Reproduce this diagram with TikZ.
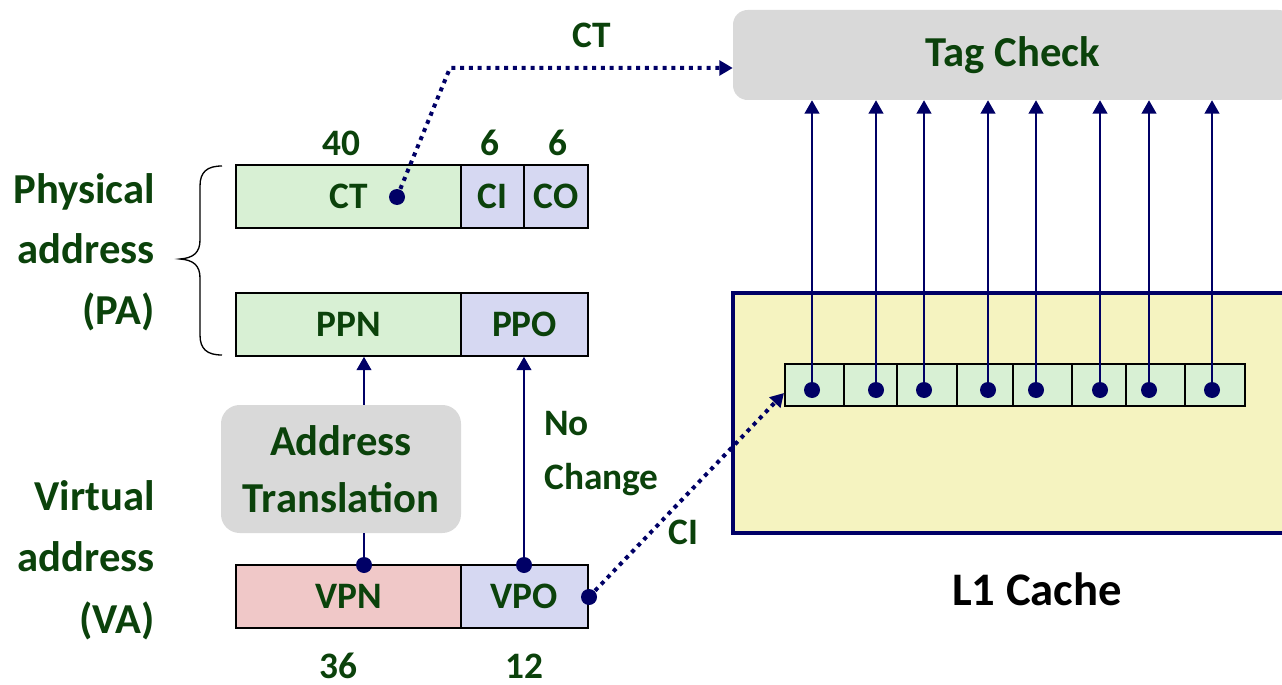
\documentclass[tikz,border=0pt]{standalone}
\usepackage{fontspec}
\setmainfont{Carlito}
\usetikzlibrary{arrows.meta}
\definecolor{tgreen}{RGB}{11,66,11}
\definecolor{navyc}{RGB}{0,0,102}
\definecolor{lgreen}{RGB}{216,240,212}
\definecolor{lblue}{RGB}{214,216,242}
\definecolor{lpink}{RGB}{240,200,200}
\definecolor{lgray}{RGB}{217,217,217}
\definecolor{lyellow}{RGB}{245,243,192}
\tikzset{
  sz/.style 2 args={minimum width=#1*0.75pt, minimum height=#2*0.75pt},
  fld/.style={draw=black, line width=1.2pt, inner sep=0pt, text=tgreen, font=\bfseries\fontsize{28}{30}\selectfont},
  gfld/.style={fld, fill=lgreen},
  bfld/.style={fld, fill=lblue},
  pfld/.style={fld, fill=lpink},
  cell/.style={draw=black, line width=1.5pt, inner sep=0pt, fill=lgreen},
  gbox/.style={fill=lgray, rounded corners=11pt, inner sep=0pt, text=tgreen, font=\bfseries\fontsize{32}{43}\selectfont, align=center},
  biglbl/.style={text=tgreen, inner sep=0pt, font=\bfseries\fontsize{32}{36}\selectfont},
  midlbl/.style={text=tgreen, inner sep=0pt, font=\bfseries\fontsize{28}{30}\selectfont},
  dotn/.style={circle, fill=navyc, minimum size=12pt, inner sep=0pt},
  conn/.style={draw=navyc, line width=1.5pt},
  arr/.style={-{Triangle[width=11pt,length=10pt]}},
  dotted line/.style={draw=navyc, line width=3pt, dash pattern=on 3pt off 3.6pt},
}
\begin{document}
\begin{tikzpicture}[x=0.75pt,y=-0.75pt]
\useasboundingbox (0,0) rectangle (1282,685);
\clip (0,0) rectangle (1282,685);

% Tag check and L1 cache
\node[gbox, sz={560}{90}] (tag) at (1013,55) {Tag Check};
\node[draw=navyc, line width=2.6pt, fill=lyellow, inner sep=0pt, sz={570}{240}] (l1) at (1018,413) {};
\node[anchor=base, inner sep=0pt, font=\bfseries\fontsize{35}{40}\selectfont] (l1lbl) at (1037,605) {L1 Cache};

% cache line cells
\node[cell, sz={59}{42}] (c1) at (814.5,385) {};
\node[cell, sz={53}{42}] (c2) at (870.5,385) {};
\node[cell, sz={60}{42}] (c3) at (927,385) {};
\node[cell, sz={56}{42}] (c4) at (985,385) {};
\node[cell, sz={59}{42}] (c5) at (1042.5,385) {};
\node[cell, sz={54}{42}] (c6) at (1099,385) {};
\node[cell, sz={59}{42}] (c7) at (1155.5,385) {};
\node[cell, sz={60}{42}] (c8) at (1215,385) {};
\foreach \i/\x in {1/812,2/876,3/924,4/988,5/1036,6/1100,7/1149,8/1212}{
  \node[dotn] (cd\i) at (\x,390) {};
  \draw[conn, arr] (cd\i.center) -- (cd\i |- tag.south);
}

% Physical address
\node[gfld, sz={225}{63}] (ct) at (348.5,196.5) {CT};
\node[bfld, sz={63}{63}] (ci) at (492.5,196.5) {CI};
\node[bfld, sz={64}{63}] (co) at (556,196.5) {CO};
\node[midlbl, anchor=base] (n40) at (341,156) {40};
\node[midlbl, anchor=base] (n6a) at (490,156) {6};
\node[midlbl, anchor=base] (n6b) at (558,156) {6};

\node[gfld, sz={225}{63}] (ppn) at (348.5,324.5) {PPN};
\node[bfld, sz={127}{63}] (ppo) at (524.5,324.5) {PPO};

% Virtual address
\node[pfld, sz={225}{63}] (vpn) at (348.5,596.5) {VPN};
\node[bfld, sz={127}{63}] (vpo) at (524.5,596.5) {VPO};
\node[midlbl, anchor=base] (n36) at (338,678) {36};
\node[midlbl, anchor=base] (n12) at (524,678) {12};

% Address translation
\node[gbox, rounded corners=14pt, sz={240}{128}] (at) at (341,469) {Address\\Translation};

% brace
\draw[line width=1pt] (222,166) .. controls (207,166) and (200,172) .. (200,186) -- (200,240)
  .. controls (200,252) and (194,258) .. (180,259) .. controls (194,260) and (200,266) .. (200,278)
  -- (200,335) .. controls (200,349) and (207,355) .. (222,355);

% left labels
\node[biglbl, anchor=base east] (pa1) at (155,203) {Physical};
\node[biglbl, anchor=base east] (pa2) at (155,263) {address};
\node[biglbl, anchor=base east] (pa3) at (155,324) {(PA)};
\node[biglbl, anchor=base east] (va1) at (155,510) {Virtual};
\node[biglbl, anchor=base east] (va2) at (155,571) {address};
\node[biglbl, anchor=base east] (va3) at (155,633) {(VA)};

% dots and connectors
\node[dotn] (vpndot) at (364,565) {};
\node[dotn] (vpodot) at (524,565) {};
\node[dotn] (vposide) at (589,597) {};
\node[dotn] (ctdot) at (397,197) {};

\draw[conn] (vpndot.center) -- (vpndot |- at.south);
\draw[conn, arr] (vpndot |- at.north) -- (vpndot |- ppn.south);
\draw[conn, arr] (vpodot.center) -- (vpodot |- ppo.south);

\coordinate (bend) at (450,68);
\draw[dotted line, arr] (ctdot.center) -- (bend) -- (bend -| tag.west);
\draw[dotted line, arr] (vposide.center) -- (c1.west |- 0,393);

\node[midlbl, anchor=base] (ctlbl) at (592,48) {CT};
\node[midlbl, anchor=base west] (nolbl) at (544,435) {No};
\node[midlbl, anchor=base west] (chlbl) at (544,489) {Change};
\node[midlbl, anchor=base west] (cilbl) at (668,544) {CI};
\end{tikzpicture}
\end{document}
